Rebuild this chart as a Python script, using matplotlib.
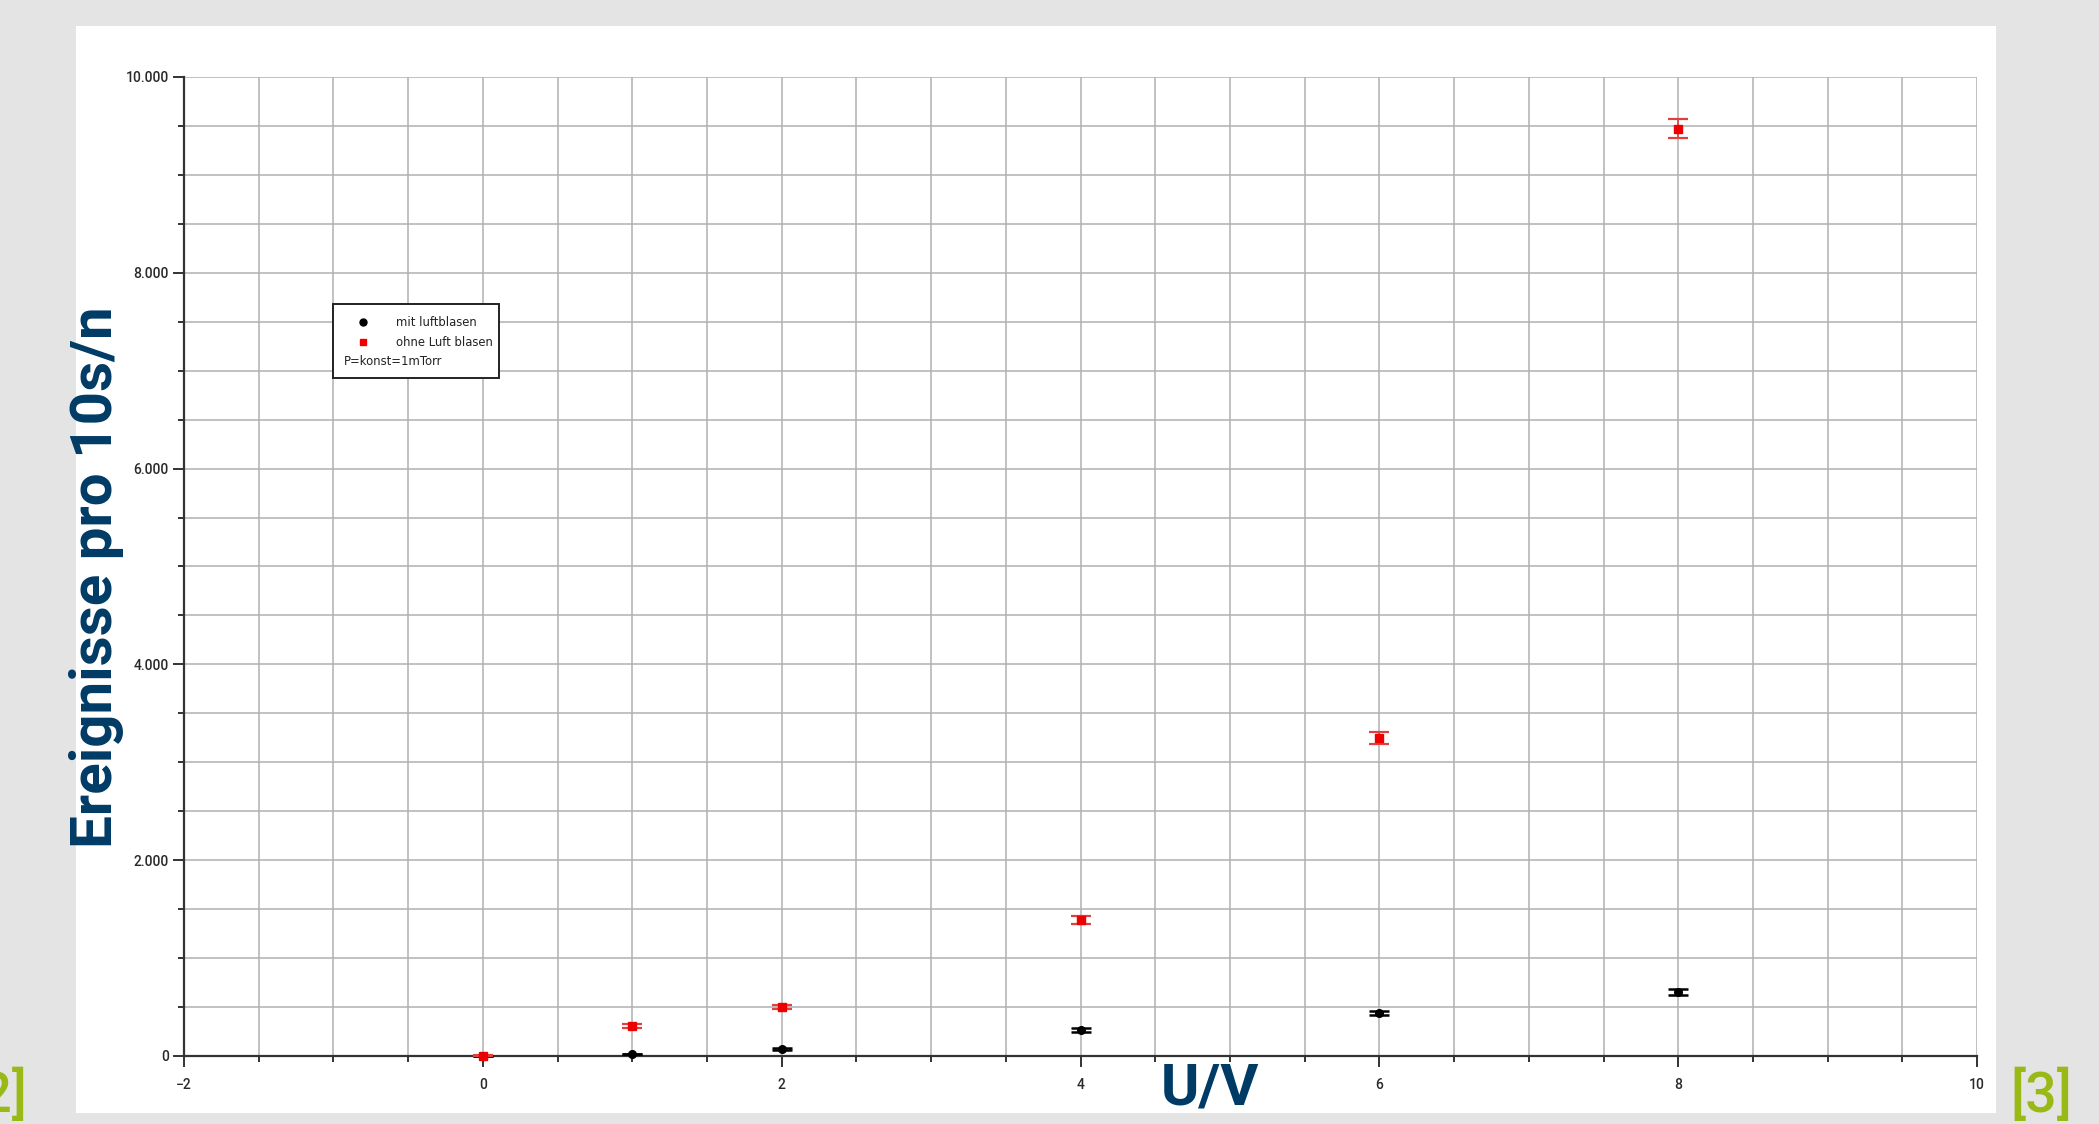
import matplotlib
matplotlib.use("Agg")
import matplotlib.pyplot as plt
from matplotlib.patches import Rectangle
from matplotlib.ticker import MultipleLocator, FuncFormatter

# Messwerte: Spannung U in V, Ereignisse pro 10 s
voltage = [0, 1, 2, 4, 6, 8]
mit_luft = [0, 20, 70, 266, 440, 654]
mit_luft_err = [0, 4, 8, 16, 21, 26]
ohne_luft = [5, 305, 500, 1390, 3248, 9469]
ohne_luft_err = [2, 17, 22, 37, 57, 97]

label_mit = "mit luftblasen"
label_ohne = "ohne Luft blasen"
label_druck = "P=konst=1mTorr"

navy = "#003b66"
green = "#98b916"

fig = plt.figure(figsize=(20.99, 11.24), dpi=100, facecolor="#e4e4e4")

# weisse Flaeche hinter dem Diagramm
fig.patches.append(Rectangle((0.0362, 0.0098), 0.9148, 0.9674, transform=fig.transFigure,
                             facecolor="white", edgecolor="none", zorder=-5))

ax = fig.add_axes([0.0877, 0.0605, 0.8542, 0.871])
ax.set_zorder(1)
ax.set_facecolor("white")
ax.set_xlim(-2, 10)
ax.set_ylim(0, 10000)

ax.xaxis.set_major_locator(MultipleLocator(2))
ax.xaxis.set_minor_locator(MultipleLocator(0.5))
ax.yaxis.set_major_locator(MultipleLocator(2000))
ax.yaxis.set_minor_locator(MultipleLocator(500))
ax.yaxis.set_major_formatter(FuncFormatter(lambda v, p: f"{int(v):,}".replace(",", ".")))
ax.xaxis.set_major_formatter(FuncFormatter(lambda v, p: f"{int(v)}".replace("-", "\u2212")))

ax.grid(True, which="both", color="#b0b0b0", linewidth=1.1)
ax.set_axisbelow(True)
for s in ["top", "right"]:
    ax.spines[s].set_visible(False)
for s in ["left", "bottom"]:
    ax.spines[s].set_color("#333333")
    ax.spines[s].set_linewidth(1.6)

ax.tick_params(axis="both", which="major", length=8, width=1.4, color="#333333",
               labelsize=10, labelcolor="#2a2a2a")
ax.tick_params(axis="both", which="minor", length=4, width=1.4, color="#333333")
ax.tick_params(axis="x", which="major", pad=8)
ax.tick_params(axis="y", which="major", pad=3)
for lbl in ax.get_xticklabels() + ax.get_yticklabels():
    lbl.set_fontfamily("Roboto")
    lbl.set_fontweight("medium")

ax.errorbar(voltage, mit_luft, yerr=mit_luft_err, fmt="o", color="black", ms=5.5,
            ecolor="black", elinewidth=1.2, capsize=7, capthick=1.8, zorder=3, clip_on=False)
ax.errorbar(voltage, ohne_luft, yerr=ohne_luft_err, fmt="s", color="#ee0000", ms=5.5,
            ecolor="#e04040", elinewidth=1.2, capsize=7, capthick=1.6, zorder=4, clip_on=False)

# Legendenkasten
ax.add_patch(Rectangle((0.0831, 0.6925), 0.0926, 0.0755, transform=ax.transAxes,
                       facecolor="white", edgecolor="#222222", linewidth=1.4, zorder=5))
ax.plot([0.0998], [0.7497], "o", color="black", ms=5, transform=ax.transAxes, zorder=6)
ax.plot([0.0998], [0.7293], "s", color="#ee0000", ms=5, transform=ax.transAxes, zorder=6)
ax.text(0.1182, 0.7497, label_mit, transform=ax.transAxes, fontsize=8.4,
        va="center", ha="left", color="#222222", zorder=6)
ax.text(0.1182, 0.7293, label_ohne, transform=ax.transAxes, fontsize=8.4,
        va="center", ha="left", color="#222222", zorder=6)
ax.text(0.0892, 0.7099, label_druck, transform=ax.transAxes, fontsize=8.4,
        va="center", ha="left", color="#222222", zorder=6)

# Achsenbeschriftungen
fig.text(0.0459, 0.4867, "Ereignisse pro 10s/n", rotation=90, ha="center", va="center",
         fontsize=42, fontweight="bold", family="Roboto", color=navy, zorder=3)
fig.text(0.5765, 0.017, "U/V", ha="center", va="baseline",
         fontsize=42, fontweight="bold", family="Roboto", color=navy, zorder=3)

# Quellenverweise
fig.text(0.0129, 0.0107, "[2]", ha="right", va="baseline", fontsize=40,
         family="Roboto", fontweight="medium", color=green, zorder=3)
fig.text(0.9576, 0.0107, "[3]", ha="left", va="baseline", fontsize=40,
         family="Roboto", fontweight="medium", color=green, zorder=3)

fig.savefig("out.png", dpi=100, facecolor=fig.get_facecolor())
